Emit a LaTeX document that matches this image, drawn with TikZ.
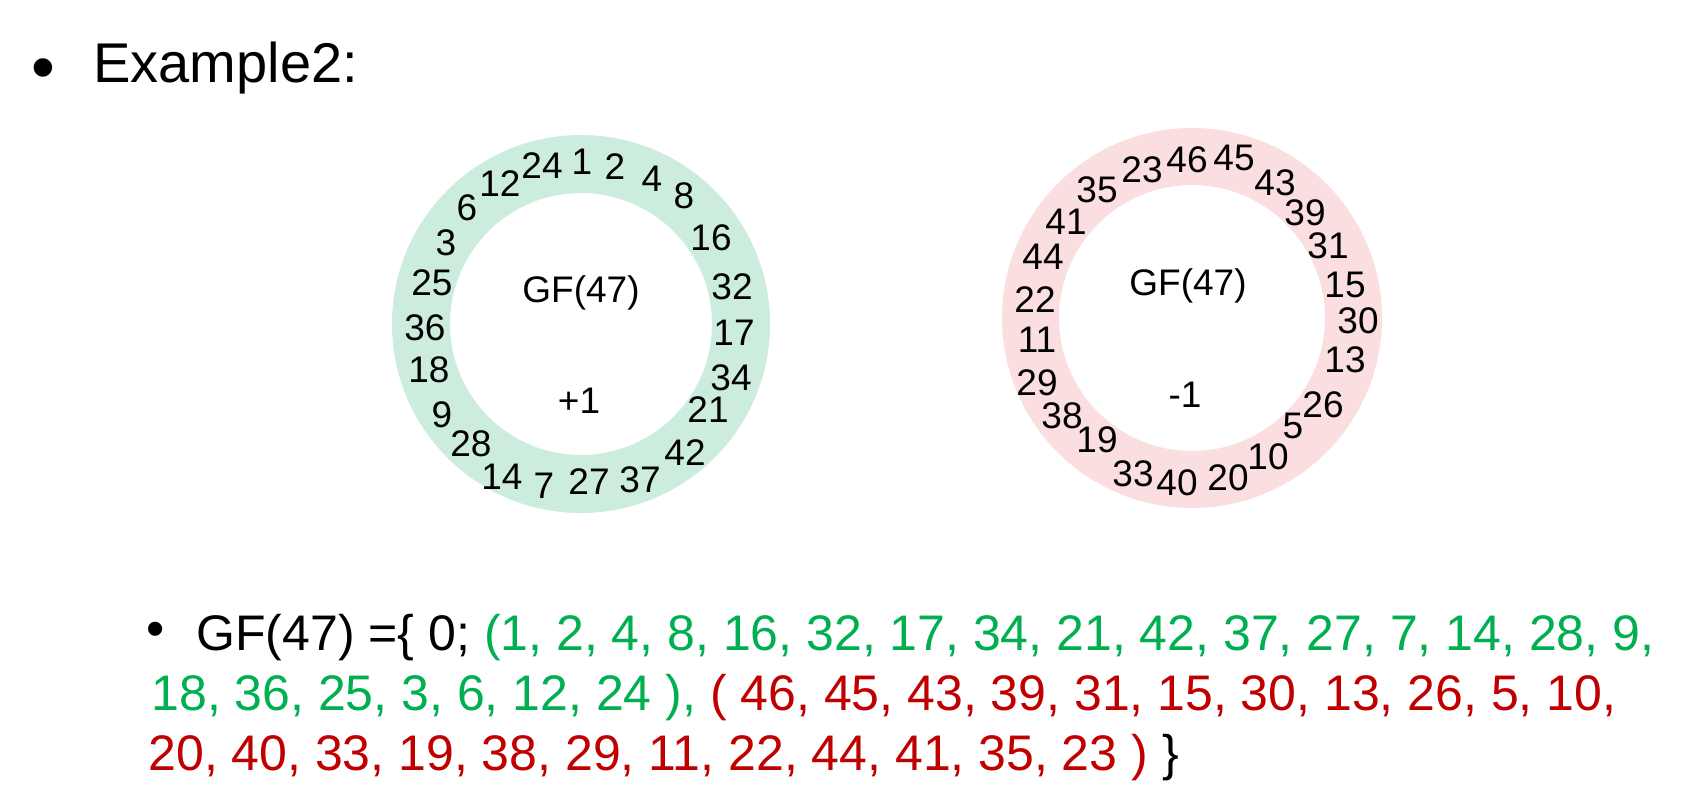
\documentclass[tikz,border=0pt]{standalone}
\usepackage{fontspec}
\setmainfont{Liberation Sans}
\definecolor{ringgreen}{RGB}{204,237,222}
\definecolor{ringpink}{RGB}{250,222,224}
\definecolor{pgreen}{RGB}{0,176,80}
\definecolor{pred}{RGB}{192,0,0}
\begin{document}
\begin{tikzpicture}[x=0.5pt,y=0.5pt,
  ringlbl/.style={inner sep=0pt,font=\fontsize{18.5}{22}\selectfont},
  bigtxt/.style={inner sep=0pt,anchor=base west,font=\fontsize{25}{30}\selectfont},
  titletxt/.style={inner sep=0pt,anchor=base west,font=\fontsize{28}{33}\selectfont}]
\useasboundingbox (0,0) rectangle (1682,-811);
\fill[white] (0,0) rectangle (1682,-811);
% rings
\coordinate (gc) at (581,-324);
\coordinate (pc) at (1192,-318);
\fill[ringgreen,even odd rule] (gc) circle (94.5pt) (gc) circle (65.5pt);
\fill[ringpink,even odd rule] (pc) circle (95pt) (pc) circle (66.5pt);
% title
\node[inner sep=0pt,font=\fontsize{34}{40}\selectfont] (b1) at (43,-75) {•};
\node[titletxt] (title) at (93,-82) {Example2:};
% green ring labels
\foreach \t/\x/\y in {1/582/162, 2/615/167, 4/652/179, 8/684/196, 16/711/238,
  32/732/287, 17/734/333, 34/731/378, 21/708/410, 42/685/453, 37/640/480,
  27/589/482, 7/544/486, 14/502/477, 28/471/444, 9/442/415, 18/429/370,
  36/425/328, 25/432/283, 3/446/243, 6/467/208, 12/500/184, 24/542/166}
  \node[ringlbl] (g\t) at (\x,-\y) {\t};
\node[ringlbl,anchor=base] (ggf) at (581,-302) {GF(47)};
\node[ringlbl] (gplus) at (579,-401) {+1};
% pink ring labels
\foreach \t/\x/\y in {46/1187/160, 45/1234/158, 43/1275/183, 39/1305/213,
  31/1328/246, 15/1345/285, 30/1358/321, 13/1345/360, 26/1323/405, 5/1293/426,
  10/1268/457, 20/1228/478, 40/1177/483, 33/1133/474, 19/1097/440, 38/1062/416,
  29/1037/383, 11/1037/340, 22/1035/300, 44/1043/257, 41/1066/222, 35/1097/190,
  23/1142/170}
  \node[ringlbl] (p\t) at (\x,-\y) {\t};
\node[ringlbl,anchor=base] (pgf) at (1188,-295) {GF(47)};
\node[ringlbl] (pminus) at (1185,-395) {-1};
% bottom text
\node[inner sep=0pt,font=\fontsize{26}{30}\selectfont] (b2) at (156,-634) {•};
\node[bigtxt] (l1) at (196,-650) {GF(47) =\{ 0; \textcolor{pgreen}{(1, 2, 4, 8, 16, 32, 17, 34, 21, 42, 37, 27, 7, 14, 28, 9,}};
\node[bigtxt] (l2) at (151,-710) {\textcolor{pgreen}{18, 36, 25, 3, 6, 12, 24 ),} \textcolor{pred}{( 46, 45, 43, 39, 31, 15, 30, 13, 26, 5, 10,}};
\node[bigtxt] (l3) at (148,-770) {\textcolor{pred}{20, 40, 33, 19, 38, 29, 11, 22, 44, 41, 35, 23 )} \}};
\end{tikzpicture}
\end{document}
